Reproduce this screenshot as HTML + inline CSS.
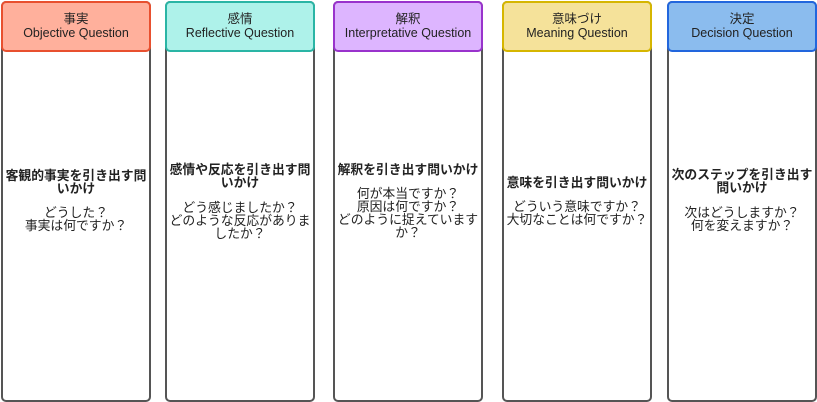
<!DOCTYPE html>
<html><head><meta charset="utf-8"><style>
body{margin:0;width:817px;height:402px;background:#fff;position:relative;overflow:hidden;font-family:"Liberation Sans","Noto Sans CJK JP",sans-serif;font-size:12px;color:#222}
.col{position:absolute;top:1px;width:146px;height:397px;border:2px solid #555;border-radius:5px;background:#fff;box-sizing:content-box}
.hd{position:absolute;left:-2px;top:-2px;width:146px;height:38px;border:2px solid;border-radius:5px;text-align:center;line-height:14px;padding-top:9px;box-sizing:content-box;font-size:12.5px}
.t{position:absolute;left:-2px;width:150px;text-align:center;line-height:13px;font-size:12.8px}
.b{font-weight:bold}
</style></head><body>
<div class="col" style="left:1px"><div class="hd" style="background:#FFB09C;border-color:#E8502F">事実<br>Objective Question</div>
<div class="t b" style="top:166px">客観的事実を引き出す問<br>いかけ</div>
<div class="t" style="top:203px">どうした？<br>事実は何ですか？</div></div>
<div class="col" style="left:165px"><div class="hd" style="background:#AEF2EA;border-color:#2AB5A5">感情<br>Reflective Question</div>
<div class="t b" style="top:160px">感情や反応を引き出す問<br>いかけ</div>
<div class="t" style="top:198px">どう感じましたか？<br>どのような反応がありま<br>したか？</div></div>
<div class="col" style="left:333px"><div class="hd" style="background:#DDB5FF;border-color:#9933CC">解釈<br>Interpretative Question</div>
<div class="t b" style="top:160px">解釈を引き出す問いかけ</div>
<div class="t" style="top:184px">何が本当ですか？<br>原因は何ですか？<br>どのように捉えています<br>か？</div></div>
<div class="col" style="left:502px"><div class="hd" style="background:#F5E29A;border-color:#D6B600">意味づけ<br>Meaning Question</div>
<div class="t b" style="top:173px">意味を引き出す問いかけ</div>
<div class="t" style="top:197px">どういう意味ですか？<br>大切なことは何ですか？</div></div>
<div class="col" style="left:667px"><div class="hd" style="background:#8BBCEE;border-color:#2266DD">決定<br>Decision Question</div>
<div class="t b" style="top:165px">次のステップを引き出す<br>問いかけ</div>
<div class="t" style="top:203px">次はどうしますか？<br>何を変えますか？</div></div>
</body></html>
